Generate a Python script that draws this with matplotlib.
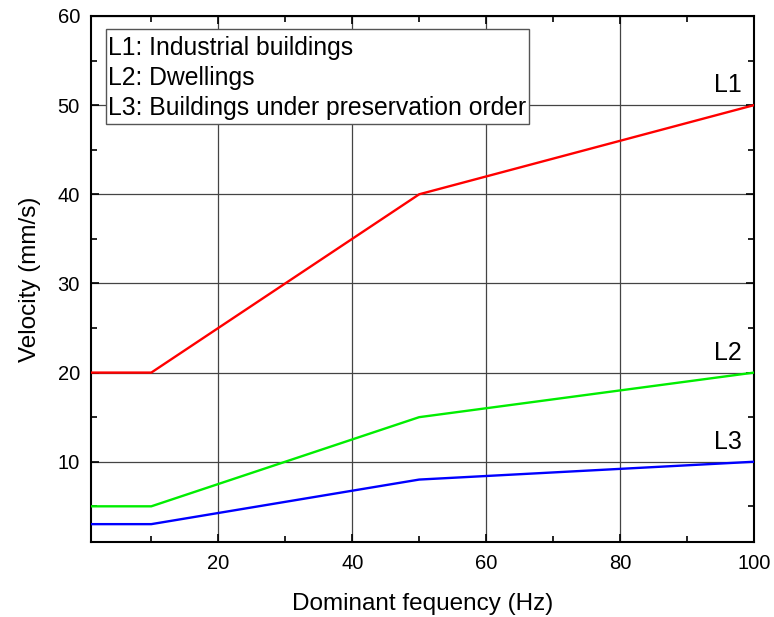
import matplotlib
matplotlib.use("Agg")
import matplotlib.pyplot as plt
from matplotlib.patches import Rectangle
from matplotlib.ticker import MultipleLocator

plt.rcParams['font.family'] = ['Liberation Sans', 'DejaVu Sans']

# Guideline velocity limits vs dominant frequency
freq = [1, 10, 50, 100]
l1_industrial = [20, 20, 40, 50]
l2_dwellings = [5, 5, 15, 20]
l3_preservation = [3, 3, 8, 10]
curve_labels = ["L1", "L2", "L3"]
legend_lines = ["L1: Industrial buildings",
                "L2: Dwellings",
                "L3: Buildings under preservation order"]

fig = plt.figure(figsize=(7.74, 6.17), dpi=100)
ax = fig.add_axes([0.1176, 0.1216, 0.8566, 0.8525])

series = [l1_industrial, l2_dwellings, l3_preservation]
colors = ['#ff0000', '#00ee00', '#0000ff']
for vals, c in zip(series, colors):
    ax.plot(freq, vals, color=c, lw=1.7, zorder=3)

ax.set_xlim(1, 100)
ax.set_ylim(1, 60)
ax.xaxis.set_major_locator(MultipleLocator(20))
ax.xaxis.set_minor_locator(MultipleLocator(10))
ax.yaxis.set_major_locator(MultipleLocator(10))
ax.yaxis.set_minor_locator(MultipleLocator(5))

ax.grid(True, which='major', color='#444444', lw=0.9, zorder=1)

ax.tick_params(which='both', direction='in', top=True, right=True,
               labelsize=14.5, width=1.2)
ax.tick_params(which='major', length=6)
ax.tick_params(which='minor', length=4)
ax.tick_params(axis='x', which='major', pad=9)
ax.tick_params(axis='y', which='major', pad=8)
for s in ax.spines.values():
    s.set_linewidth(1.5)

ax.set_xlabel("Dominant fequency (Hz)", fontsize=17.5, labelpad=14)
ax.set_ylabel("Velocity (mm/s)", fontsize=17.5, labelpad=12)

# Curve tags near the right end of each line
for vals, tag in zip(series, curve_labels):
    ax.text(98.2, vals[-1] + 1.45, tag, fontsize=18,
            ha='right', va='baseline')

# Text-only key box in the upper left corner
ax.add_patch(Rectangle((0.0226, 0.7947), 0.638, 0.18, transform=ax.transAxes,
                       fc='white', ec='#555555', lw=1.0, zorder=4))
for i, line in enumerate(legend_lines):
    ax.text(0.0256, 0.9259 - i * 0.0571, line, transform=ax.transAxes,
            fontsize=17.8, ha='left', va='baseline', zorder=5)

fig.savefig("out.png", dpi=100)
